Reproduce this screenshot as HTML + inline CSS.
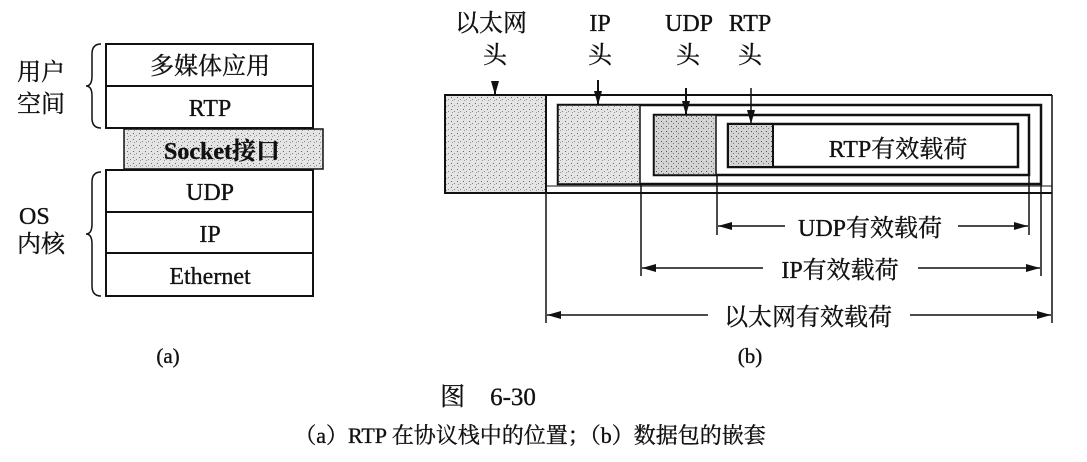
<!DOCTYPE html>
<html><head><meta charset="utf-8"><style>
html,body{margin:0;padding:0;background:#fff;}
svg text{font-family:"Liberation Serif","Noto Serif CJK SC","Noto Sans CJK SC",serif;fill:#111;stroke:#111;stroke-width:0.35;}
</style></head><body>
<svg width="1087" height="457" viewBox="0 0 1087 457" xmlns="http://www.w3.org/2000/svg">
<defs>
<pattern id="dots" width="6" height="6" patternUnits="userSpaceOnUse">
<rect width="6" height="6" fill="#e4e4e4"/>
<rect x="1" y="1" width="1" height="1" fill="#666"/>
<rect x="4" y="3" width="1" height="1" fill="#888"/>
<rect x="2" y="4" width="1" height="1" fill="#999"/>
</pattern>
<pattern id="dots2" width="5" height="5" patternUnits="userSpaceOnUse">
<rect width="5" height="5" fill="#d4d4d4"/>
<rect x="1" y="1" width="1" height="1" fill="#555"/>
<rect x="3" y="3" width="1" height="1" fill="#777"/>
</pattern>
<marker id="ar" markerWidth="14" markerHeight="8" refX="14" refY="4" orient="auto" markerUnits="userSpaceOnUse">
<path d="M0,0 L14,4 L0,8 z" fill="#111"/></marker>
<marker id="al" markerWidth="14" markerHeight="8" refX="0" refY="4" orient="auto" markerUnits="userSpaceOnUse">
<path d="M14,0 L0,4 L14,8 z" fill="#111"/></marker>
</defs>
<g stroke="#111" stroke-width="2" fill="none">
<rect x="106" y="44" width="207" height="84" fill="#fff"/>
<line x1="106" y1="86" x2="313" y2="86"/>
<rect x="124" y="129" width="199" height="40" fill="url(#dots)" stroke-width="1.5"/>
<rect x="106" y="170" width="207" height="126" fill="#fff"/>
<line x1="106" y1="212" x2="313" y2="212"/>
<line x1="106" y1="253" x2="313" y2="253"/>
<path d="M101,44 Q92,44 92,54 L92,76 Q92,86 86,86 Q92,86 92,96 L92,118 Q92,128 101,128" stroke-width="1.5"/>
<path d="M101,172 Q92,172 92,182 L92,224 Q92,234 86,234 Q92,234 92,244 L92,286 Q92,296 101,296" stroke-width="1.5"/>
</g>
<g font-size="24" text-anchor="middle">
<text x="210" y="74">多媒体应用</text>
<text x="210" y="116">RTP</text>
<text x="222" y="159" font-weight="bold">Socket接口</text>
<text x="210" y="200">UDP</text>
<text x="210" y="242">IP</text>
<text x="210" y="284">Ethernet</text>
</g>
<g font-size="24">
<text x="17" y="80">用户</text>
<text x="17" y="112">空间</text>
<text x="19" y="224">OS</text>
<text x="17" y="252">内核</text>
</g>
<g stroke="#111" fill="none">
<rect x="445" y="95" width="101" height="98" fill="url(#dots)" stroke-width="2"/>
<line x1="546" y1="95" x2="1052" y2="95" stroke-width="2"/>
<line x1="546" y1="193" x2="1052" y2="193" stroke-width="2"/>
<line x1="1052" y1="95" x2="1052" y2="323" stroke-width="1.5"/>
<line x1="546" y1="186" x2="1052" y2="186" stroke-width="1"/>
<rect x="558" y="105" width="483" height="79" stroke-width="2.5"/>
<rect x="558" y="105" width="82" height="79" fill="url(#dots)" stroke-width="1.5"/>
<rect x="654" y="115" width="375" height="60" stroke-width="2.5"/>
<rect x="654" y="115" width="62" height="60" fill="url(#dots2)" stroke-width="1.5"/>
<rect x="728" y="124" width="290" height="43" stroke-width="2.5"/>
<rect x="728" y="124" width="45" height="43" fill="url(#dots2)" stroke-width="2"/>
<line x1="546" y1="193" x2="546" y2="323" stroke-width="1.5"/>
<line x1="641" y1="184" x2="641" y2="276" stroke-width="1.5"/>
<line x1="1041" y1="184" x2="1041" y2="276" stroke-width="1.5"/>
<line x1="717" y1="175" x2="717" y2="235" stroke-width="1.5"/>
<line x1="1029" y1="175" x2="1029" y2="235" stroke-width="1.5"/>
<g stroke-width="1.5">
<line x1="718" y1="226" x2="785" y2="226" marker-start="url(#al)"/>
<line x1="958" y1="226" x2="1028" y2="226" marker-end="url(#ar)"/>
<line x1="642" y1="268" x2="763" y2="268" marker-start="url(#al)"/>
<line x1="918" y1="268" x2="1040" y2="268" marker-end="url(#ar)"/>
<line x1="547" y1="315" x2="708" y2="315" marker-start="url(#al)"/>
<line x1="910" y1="315" x2="1051" y2="315" marker-end="url(#ar)"/>
<line x1="495" y1="83" x2="495" y2="95" marker-end="url(#ar)" stroke-width="2"/>
<line x1="598" y1="80" x2="598" y2="105" marker-end="url(#ar)" stroke-width="2"/>
<line x1="686" y1="88" x2="686" y2="115" marker-end="url(#ar)" stroke-width="2"/>
<line x1="751" y1="88" x2="751" y2="124" marker-end="url(#ar)"/>
</g>
</g>
<g font-size="24" text-anchor="middle">
<text x="491" y="31">以太网</text>
<text x="495" y="63">头</text>
<text x="600" y="31">IP</text>
<text x="600" y="63">头</text>
<text x="689" y="31">UDP</text>
<text x="688" y="63">头</text>
<text x="750" y="31">RTP</text>
<text x="750" y="63">头</text>
<text x="898" y="157">RTP有效载荷</text>
<text x="870" y="236">UDP有效载荷</text>
<text x="840" y="278">IP有效载荷</text>
<text x="808" y="325">以太网有效载荷</text>
<text x="168" y="363" font-size="21">(a)</text>
<text x="750" y="363" font-size="21">(b)</text>
<text x="488" y="405" font-size="25">图　6-30</text>
<text x="530" y="443" font-size="22">（a）RTP 在协议栈中的位置；（b）数据包的嵌套</text>
</g>
</svg>
</body></html>
